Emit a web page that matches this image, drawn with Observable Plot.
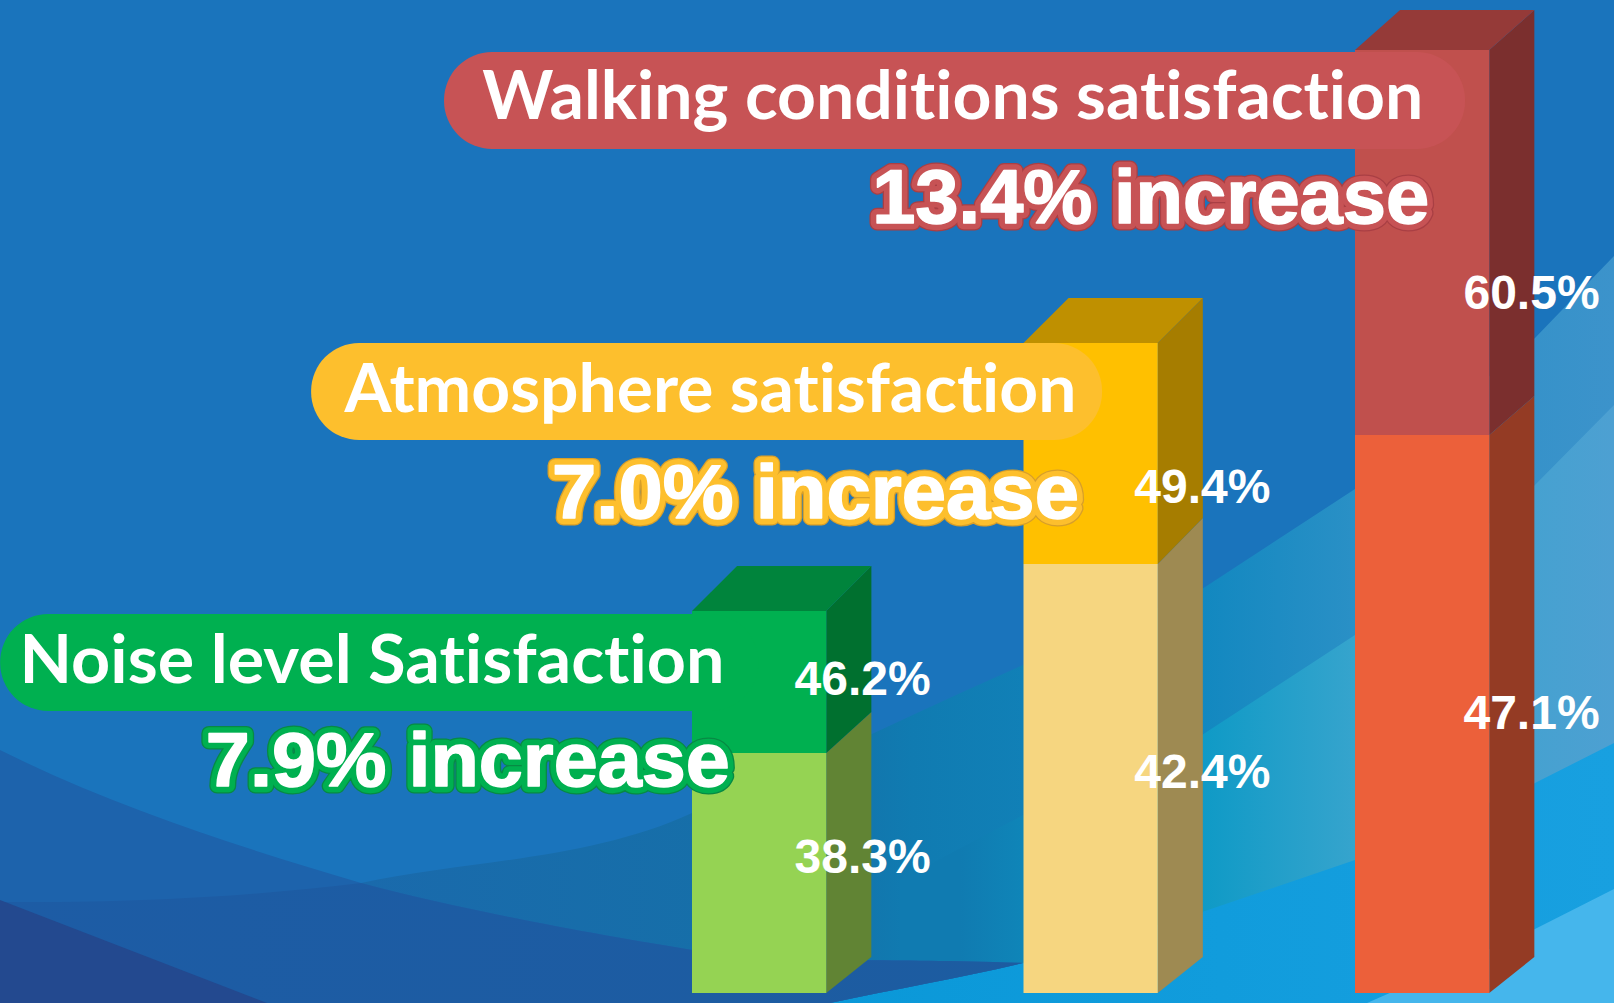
<!DOCTYPE html>
<html>
<head>
<meta charset="utf-8">
<script src="https://cdn.jsdelivr.net/npm/d3@7"></script>
<script src="https://cdn.jsdelivr.net/npm/@observablehq/plot@0.6"></script>
<style>
  html, body { margin: 0; padding: 0; width: 1614px; height: 1003px; overflow: hidden; background: #1A74BC; }
  #stage { position: relative; width: 1614px; height: 1003px; overflow: hidden; }
  .wave { position: absolute; inset: 0; }
  #chart { position: absolute; inset: 0; }
  #chart svg { background: transparent; display: block; }
  #chart text { font-variant-ligatures: none; }
</style>
</head>
<body>
<div id="stage">
  <div class="wave" style="background:linear-gradient(90deg,#1A6AAC 361px,#1570A8 800px,#107BB1 912px,#1288C0 1202px,#2A90C6 1355px,#3C93CB 1614px);clip-path:path('M361,883 C470,860 590,860 692,813 C800,770 920,710 1023,665 L1202,589 L1355,489 L1535,338 L1614,256 L1614,1003 L361,1003 Z')"></div>
  <div class="wave" style="background:linear-gradient(90deg,#107BB1 960px,#0F85B8 1023px,#0F9AC6 1202px,#36A4CD 1355px,#4DA0D2 1614px);clip-path:path('M900,880 L1023,815 L1202,735 L1355,635 L1533,487 L1614,405 L1614,1003 L900,1003 Z')"></div>
  <div class="wave" style="background:linear-gradient(90deg,#0A98D8 830px,#18A0E0 1614px);clip-path:path('M830,1003 C900,988 960,978 1023,963 L1202,912 L1355,860 L1533,784 L1614,743 L1614,1003 Z')"></div>
  <div class="wave" style="background:#45B6EC;clip-path:path('M1367,1003 L1533,930 L1614,889 L1614,1003 Z')"></div>
  <div class="wave" style="background:#1D63AC;clip-path:path('M0,750 C120,810 250,850 361,883 C470,912 600,935 692,950 C780,965 830,957 1023,963 C960,978 900,988 830,1003 L0,1003 Z')"></div>
  <div class="wave" style="background:linear-gradient(90deg,#1D5CA5,#1C5C9E);clip-path:path('M0,902 C150,903 260,895 361,883 C470,912 600,935 692,950 C780,965 830,957 1023,963 C960,978 900,988 830,1003 L0,1003 Z')"></div>
  <div class="wave" style="background:#23498F;clip-path:path('M0,900 L267,1003 L0,1003 Z')"></div>
  <div id="chart"></div>
</div>
<script>
// ---------- labelled values ----------
const categories = ["Noise level Satisfaction", "Atmosphere satisfaction", "Walking conditions satisfaction"];
const beforeValues = [38.3, 42.4, 47.1];
const afterValues = [46.2, 49.4, 60.5];
const increases = ["7.9% increase", "7.0% increase", "13.4% increase"];

// The pictured bars are not proportional to their labels, so their drawn heights are read separately.
const drawnBefore = [24.0, 42.9, 55.8];
const drawnAfter = [38.2, 65.0, 94.3];

// ---------- colours ----------
const frontBefore = ["#95D353", "#F6D680", "#EC603A"];
const sideBefore = ["#618434", "#9E8A52", "#943B24"];
const frontAfter = ["#00B050", "#FFC000", "#C0504D"];
const sideAfter = ["#00702F", "#A67D00", "#7B2F2E"];
const topAfter = ["#00843C", "#BF9000", "#953A38"];
const pillFill = ["#00B050", "#FDBF2D", "#C75355"];
const outline = ["#078A44", "#D79F2A", "#A93F44"];

// ---------- layout, in the chart's scale units ----------
const barWidth = 0.405, depthX = 0.136;
const depthTop = [4.5, 4.5, 4.0], depthMid = [4.1, 4.6, 3.9], depthBase = 3.6;
const pillX1 = [-2.087, -1.149, -0.748], pillX2 = [0.2, 1.237, 2.332];
const pillY1 = [28.2, 55.3, 84.4], pillY2 = [37.9, 65.0, 94.1];
const titleX = [-2.03, -1.05, -0.634], titleY = [33.2, 60.3, 89.6];
const titleLen = [705, 732, 941];
const incX = [-1.468, -0.424, 0.542], incY = [23.2, 50.0, 79.5];
const incLen = [524, 527, 557];
const valX = [0.513, 1.538, 2.531];
const valYBefore = [13.6, 22.1, 28.0], valYAfter = [31.4, 50.6, 70.0];

const bars = categories.map((name, i) => ({name, i, low: drawnBefore[i], high: drawnAfter[i]}));

const sideLow = bars.flatMap(b => [
  {k: b.i, x: b.i + barWidth, y1: 0, y2: b.low},
  {k: b.i, x: b.i + barWidth + depthX, y1: depthBase, y2: b.low + depthMid[b.i]}
]);
const sideHigh = bars.flatMap(b => [
  {k: b.i, x: b.i + barWidth, y1: b.low, y2: b.high},
  {k: b.i, x: b.i + barWidth + depthX, y1: b.low + depthMid[b.i], y2: b.high + depthTop[b.i]}
]);
const topFace = bars.flatMap(b => [
  {k: b.i, y: b.high, x1: b.i, x2: b.i + barWidth},
  {k: b.i, y: b.high + depthTop[b.i], x1: b.i + depthX, x2: b.i + barWidth + depthX}
]);

const incText = (stroke, strokeWidth) => Plot.text(bars, {
  x: d => incX[d.i], y: d => incY[d.i], text: d => increases[d.i],
  textAnchor: "start", fontFamily: "Liberation Sans", fontWeight: 700, fontSize: 76,
  fill: "#FFFFFF", stroke, strokeWidth, strokeLinejoin: "round"
});

const chart = Plot.plot({
  width: 1614, height: 1003,
  marginTop: 0, marginRight: 0, marginBottom: 0, marginLeft: 0,
  x: {domain: [-2.0875, 2.7813], range: [0, 1614], axis: null},
  y: {domain: [0, 99.3], range: [993, 0], axis: null},
  color: {type: "identity"},
  marks: [
    Plot.areaY(sideLow, {x: "x", y1: "y1", y2: "y2", z: "k", fill: d => sideBefore[d.k]}),
    Plot.rect(bars, {x1: "i", x2: d => d.i + barWidth, y1: 0, y2: "low", fill: d => frontBefore[d.i]}),
    Plot.areaY(sideHigh, {x: "x", y1: "y1", y2: "y2", z: "k", fill: d => sideAfter[d.k]}),
    Plot.areaX(topFace, {y: "y", x1: "x1", x2: "x2", z: "k", fill: d => topAfter[d.k]}),
    Plot.rect(bars, {x1: "i", x2: d => d.i + barWidth, y1: "low", y2: "high", fill: d => frontAfter[d.i]}),
    Plot.rect(bars, {x1: d => pillX1[d.i], x2: d => pillX2[d.i], y1: d => pillY1[d.i], y2: d => pillY2[d.i], rx: 48, fill: d => pillFill[d.i]}),
    Plot.text(bars, {
      x: d => titleX[d.i], y: d => titleY[d.i], text: "name", textAnchor: "start",
      fontFamily: "Lato", fontWeight: 700, fontSize: 67, fill: "#FFFFFF"
    }),
    incText(d => outline[d.i], 15),
    incText(d => pillFill[d.i], 12.5),
    incText("#FFFFFF", 1.5),
    Plot.text(bars, {x: d => valX[d.i], y: d => valYBefore[d.i], text: d => beforeValues[d.i].toFixed(1) + "%",
      fontFamily: "Liberation Sans", fontWeight: 700, fontSize: 48, fill: "#FFFFFF"}),
    Plot.text(bars, {x: d => valX[d.i], y: d => valYAfter[d.i], text: d => afterValues[d.i].toFixed(1) + "%",
      fontFamily: "Liberation Sans", fontWeight: 700, fontSize: 48, fill: "#FFFFFF"})
  ]
});

// Fit the stretched headline texts to the widths they have in the picture.
const lengths = new Map([
  ...categories.map((c, i) => [c, titleLen[i]]),
  ...increases.map((c, i) => [c, incLen[i]])
]);
d3.select(chart).selectAll("text").each(function () {
  const len = lengths.get(this.textContent);
  if (len) {
    this.setAttribute("textLength", len);
    this.setAttribute("lengthAdjust", "spacingAndGlyphs");
  }
});
document.getElementById("chart").append(chart);
</script>
</body>
</html>
